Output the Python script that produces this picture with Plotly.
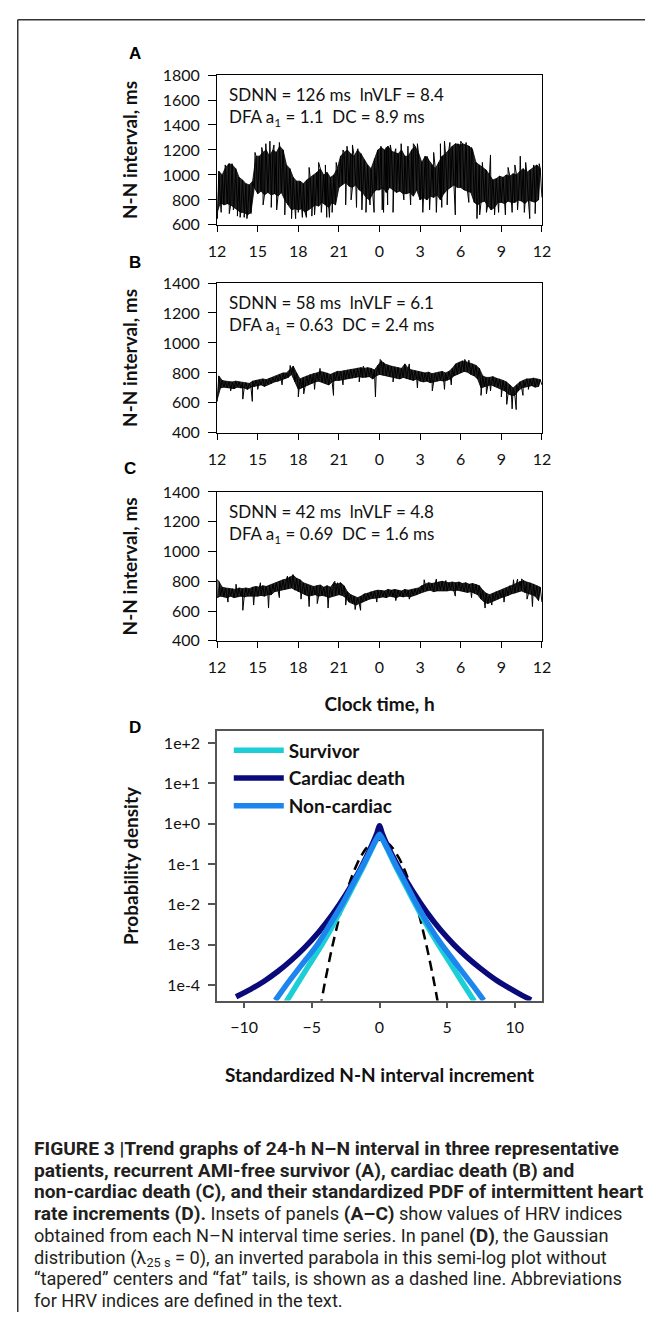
import plotly.graph_objects as go

W, H = 654, 1321

# ---------------- Panels A–C: 24-h N–N interval trends ----------------
BIN_H = 0.25  # hours per bin, 12:00 -> 12:00 (96 bins)
tick_hours = [0, 3, 6, 9, 12, 15, 18, 21, 24]
tick_clock = ["12", "15", "18", "21", "0", "3", "6", "9", "12"]

# Panel A (survivor): lower / upper edge of the dense band per 15-min bin (ms)
a_lo = [700, 780, 760, 770,  760, 740, 720, 700,  700, 680, 700, 900,
        850, 870, 840, 860,  840, 850, 830, 860,  800, 760, 720, 730,
        720, 730, 700, 720,  740, 760, 750, 780,  760, 740, 780, 760,
        900, 920, 940, 910,  900, 920, 880, 860,  820, 800, 850, 880,
        880, 900, 860, 900,  880, 860, 870, 850,  850, 860, 830, 880,
        800, 820, 800, 830,  820, 840, 800, 850,  880, 900, 920, 900,
        900, 880, 870, 860,  780, 760, 780, 790,  760, 720, 740, 780,
        780, 770, 790, 780,  780, 800, 790, 770,  800, 790, 780, 800]
a_hi = [1030, 1000, 1060, 1090,  1080, 1050, 980, 960,  930, 920, 950, 1150,
        1150, 1180, 1200, 1150,  1200, 1180, 1230, 1200,  1080, 1050, 980, 950,
        950, 930, 960, 980,  1000, 1020, 1050, 1000,  1020, 980, 1000, 1050,
        1150, 1180, 1200, 1170,  1150, 1200, 1170, 1120,  1080, 1050, 1130, 1200,
        1220, 1200, 1230, 1190,  1180, 1170, 1200, 1150,  1150, 1200, 1230, 1180,
        1100, 1150, 1120, 1080,  1050, 1100, 1150, 1170,  1200, 1230, 1250, 1240,
        1250, 1240, 1230, 1200,  1100, 1080, 1060, 1040,  1000, 960, 970, 990,
        980, 1000, 990, 1010,  1000, 1030, 1050, 1020,  1040, 1060, 1080, 1050]
a_spike_t = [0.02, 0.3, 0.6, 0.9, 1.1, 1.2, 1.5, 1.7, 2.0, 2.2, 2.5, 2.8,
             3.3, 3.4, 3.6, 3.9, 4.0, 4.2, 4.4, 4.6, 4.9, 5.0, 5.5, 5.8,
             6.0, 6.3, 6.6, 6.8, 7.0, 7.2, 7.5, 7.7, 8.0, 8.1, 8.3, 8.5, 8.8,
             9.3, 9.5, 9.6, 9.9, 10.0, 10.3, 10.4, 10.7, 11.0, 11.3, 11.6,
             12.1, 12.2, 12.3, 12.5, 12.6, 12.8, 13.0, 13.2, 13.6, 13.8, 14.1,
             14.3, 14.5, 14.8, 15.2, 15.5, 15.7, 16.0, 16.2, 16.5, 16.6, 16.8,
             17.0, 17.2, 17.6, 17.8, 18.0, 18.4, 18.6, 18.8, 19.2, 19.4, 19.6,
             19.9, 20.2, 20.5, 20.8, 21.3, 21.5, 21.8, 22.0, 22.2, 22.4, 22.7,
             22.8, 23.1, 23.4, 23.5, 23.8, 24.0]
a_spike_v = [650, 700, 1080, 690, 1090, 720, 670, 660, 660, 650, 690, 1180,
             1220, 760, 1250, 1270, 740, 1240, 720, 1260, 1150, 680, 650, 650,
             700, 660, 660, 1060, 670, 680, 1100, 700, 1080, 660, 660, 700, 1100,
             1200, 760, 1230, 800, 1240, 740, 1210, 720, 700, 760, 700,
             1230, 720, 700, 1220, 760, 1240, 700, 1210, 1250, 800, 1230,
             760, 1250, 1250, 700, 1150, 720, 1180, 700, 1250, 740, 1270,
             760, 1260, 680, 1250, 1270, 1260, 780, 1220, 650, 680, 1100,
             700, 1160, 680, 700, 680, 1060, 700, 1080, 720, 1150, 700,
             1100, 650, 1080, 690, 1090, 820]

# Panel B (cardiac death)
b_lo = [620, 700, 705, 700,  700, 695, 705, 700,  700, 690, 705, 710,
        715, 720, 710, 725,  730, 740, 745, 750,  760, 770, 790, 740,
        690, 700, 710, 720,  730, 740, 745, 740,  730, 720, 740, 750,
        750, 755, 760, 765,  765, 770, 775, 770,  770, 775, 760, 780,
        790, 785, 780, 775,  770, 765, 760, 770,  760, 755, 750, 760,
        745, 740, 745, 735,  740, 745, 750, 745,  750, 760, 780, 790,
        800, 810, 805, 790,  780, 760, 700, 710,  715, 720, 710, 705,
        690, 680, 660, 650,  650, 680, 700, 710,  710, 715, 705, 710]
b_hi = [780, 750, 745, 740,  740, 745, 740, 735,  735, 730, 745, 750,
        750, 760, 755, 765,  770, 780, 790, 800,  800, 820, 845, 800,
        760, 770, 780, 790,  795, 800, 810, 805,  800, 790, 800, 810,
        810, 815, 820, 825,  825, 830, 835, 830,  835, 830, 820, 850,
        880, 860, 850, 845,  840, 835, 830, 860,  830, 820, 815, 810,
        805, 800, 805, 795,  800, 805, 810, 800,  810, 830, 860, 870,
        880, 875, 870, 860,  850, 830, 780, 770,  770, 775, 765, 760,
        750, 740, 720, 700,  720, 740, 750, 760,  760, 765, 760, 755]
b_spike_t = [0.0, 1.0, 1.9, 2.6, 3.0, 4.8, 5.4, 6.0, 6.4, 7.2, 7.6, 8.6, 9.3,
             10.5, 10.8, 11.7, 12.05, 12.3, 13.0, 14.2, 14.8, 15.9, 16.8, 17.3,
             18.3, 18.6, 19.5, 19.9, 20.2, 21.0, 21.4, 21.8, 22.1, 22.6, 23.0,
             24.0]
b_spike_v = [610, 680, 625, 610, 690, 720, 850, 640, 660, 690, 830, 650, 720,
             740, 845, 640, 890, 870, 740, 860, 700, 680, 690, 720,
             890, 885, 650, 660, 680, 640, 590, 560, 555, 650, 690,
             720]

# Panel C (non-cardiac death)
c_lo = [690, 700, 695, 690,  700, 690, 695, 700,  695, 700, 705, 700,
        700, 705, 700, 710,  710, 730, 740, 745,  745, 750, 755, 740,
        730, 720, 710, 700,  705, 710, 700, 705,  700, 690, 700, 705,
        710, 705, 690, 660,  650, 640, 650, 660,  670, 680, 685, 690,
        690, 695, 690, 700,  695, 690, 700, 695,  700, 695, 705, 710,
        720, 730, 735, 740,  730, 735, 740, 735,  735, 740, 735, 740,
        735, 730, 725, 730,  720, 710, 680, 660,  650, 660, 670, 680,
        690, 700, 705, 715,  720, 730, 735, 725,  715, 710, 700, 670]
c_hi = [800, 760, 755, 750,  750, 745, 755, 750,  755, 750, 760, 765,
        760, 770, 765, 775,  780, 790, 800, 810,  815, 830, 840, 820,
        810, 790, 780, 770,  765, 770, 775, 760,  770, 760, 790, 780,
        790, 770, 730, 710,  700, 690, 700, 715,  720, 730, 735, 740,
        740, 735, 745, 740,  745, 740, 735, 745,  740, 745, 750, 755,
        770, 780, 790, 785,  790, 795, 800, 795,  790, 795, 790, 795,
        785, 790, 780, 785,  780, 770, 740, 720,  710, 720, 730, 735,
        745, 755, 770, 780,  790, 800, 805, 795,  790, 780, 770, 760]
c_spike_t = [0.0, 0.8, 1.4, 1.9, 2.7, 3.2, 3.8, 4.6, 5.2, 5.6, 6.2, 6.8, 7.4,
             8.2, 8.7, 8.9, 9.5, 10.2, 10.6, 11.8, 13.2, 14.2, 15.3, 16.2, 16.9,
             17.6, 18.8, 19.8, 20.3, 21.2, 21.9, 22.2, 22.5, 22.9, 23.3, 24.0]
c_spike_v = [810, 660, 780, 605, 640, 790, 620, 690, 835, 845, 680, 630, 650,
             620, 800, 790, 640, 610, 605, 660, 670, 680, 810, 815, 805,
             700, 690, 620, 640, 660, 810, 815, 815, 680, 630, 660]

inset_lines = [
    ("SDNN = 126 ms  lnVLF = 8.4", "DFA a<sub>1</sub> = 1.1  DC = 8.9 ms"),
    ("SDNN = 58 ms  lnVLF = 6.1", "DFA a<sub>1</sub> = 0.63  DC = 2.4 ms"),
    ("SDNN = 42 ms  lnVLF = 4.8", "DFA a<sub>1</sub> = 0.69  DC = 1.6 ms"),
]

# ---------------- Panel D: standardized PDFs (semi-log) ----------------
surv_x = [-6.9, -6.0, -5.2, -4.3, -3.5, -2.7, -1.9, -1.15, -0.6, -0.2, 0.0,
          0.2, 0.6, 1.15, 1.9, 2.65, 3.5, 4.36, 5.3, 6.2, 7.0]
surv_y = [3.8e-5, 1.17e-4, 3.16e-4, 9.55e-4, 2.82e-3, 9.33e-3, 3.02e-2, 9.33e-2,
          2.29e-1, 4.27e-1, 5.13e-1, 4.27e-1, 2.29e-1, 9.33e-2, 3.02e-2, 1.0e-2,
          3.02e-3, 1.0e-3, 3.16e-4, 1.05e-4, 3.98e-5]
card_x = [-10.6, -9.5, -8.5, -7.5, -6.5, -5.5, -4.5, -3.5, -2.5, -1.5, -1.0,
          -0.5, -0.2, 0.0, 0.2, 0.5, 1.0, 1.5, 2.5, 3.5, 4.5, 5.5, 6.5, 7.5,
          8.5, 9.5, 10.5, 11.2]
card_y = [5.13e-5, 7.94e-5, 1.26e-4, 2.19e-4, 4.17e-4, 8.71e-4, 2.04e-3, 5.5e-3,
          1.74e-2, 6.76e-2, 1.45e-1, 3.31e-1, 5.75e-1, 8.91e-1, 5.75e-1, 3.31e-1,
          1.51e-1, 7.41e-2, 2.0e-2, 6.31e-3, 2.34e-3, 1.0e-3, 4.79e-4, 2.51e-4,
          1.41e-4, 8.71e-5, 5.62e-5, 4.27e-5]
nonc_x = [-7.7, -7.0, -5.8, -4.6, -3.7, -2.8, -2.0, -1.2, -0.6, -0.2, 0.0,
          0.2, 0.6, 1.2, 2.0, 2.75, 3.65, 4.6, 5.8, 7.0, 7.7]
nonc_y = [4.17e-5, 8.91e-5, 3.02e-4, 1.0e-3, 3.02e-3, 9.55e-3, 3.02e-2, 9.55e-2,
          2.4e-1, 4.37e-1, 5.5e-1, 4.37e-1, 2.4e-1, 9.55e-2, 3.02e-2, 1.0e-2,
          3.02e-3, 1.0e-3, 2.95e-4, 8.71e-5, 4.17e-5]
gauss_x = [-4.4, -4.0, -3.5, -3.0, -2.5, -2.0, -1.5, -1.0, -0.5, 0.0,
           0.5, 1.0, 1.5, 2.0, 2.5, 3.0, 3.5, 4.0, 4.4]
gauss_y = [2.5e-5, 1.34e-4, 8.7e-4, 4.4e-3, 1.75e-2, 5.4e-2, 1.3e-1, 2.42e-1,
           3.52e-1, 3.99e-1, 3.52e-1, 2.42e-1, 1.3e-1, 5.4e-2, 1.75e-2,
           4.4e-3, 8.7e-4, 1.34e-4, 2.5e-5]
pdf_tickvals = [1e2, 1e1, 1e0, 1e-1, 1e-2, 1e-3, 1e-4]
pdf_ticktext = ["1e+2", "1e+1", "1e+0", "1e-1", "1e-2", "1e-3", "1e-4"]

BOLD = '<b><span style="font-size:19.2px">%s</span></b>'
REG = '<span style="font-size:18.2px">%s</span>'
caption_lines = [
    BOLD % "FIGURE 3 |Trend graphs of 24-h N–N interval in three representative",
    BOLD % "patients, recurrent AMI-free survivor (A), cardiac death (B) and",
    BOLD % "non-cardiac death (C), and their standardized PDF of intermittent heart",
    BOLD % "rate increments (D)." + REG % " Insets of panels " + BOLD % "(A–C)"
    + REG % " show values of HRV indices",
    REG % "obtained from each N–N interval time series. In panel " + BOLD % "(D)"
    + REG % ", the Gaussian",
    REG % "distribution (λ<sub>25 s</sub> = 0), an inverted parabola in this semi-log plot without",
    REG % "“tapered” centers and “fat” tails, is shown as a dashed line. Abbreviations",
    REG % "for HRV indices are defined in the text.",
]

# ---------------- layout helpers ----------------
def fx(p):
    return p / W


def fy(p):
    return 1 - p / H


def trend_xy(lo, hi, st, sv):
    pts = []
    for i, (l, h) in enumerate(zip(lo, hi)):
        t0 = i * BIN_H
        pts.append((t0, l))
        pts.append((t0 + BIN_H / 2, h))
    pts += list(zip(st, sv))
    pts.sort(key=lambda p: p[0])
    return [p[0] for p in pts], [p[1] for p in pts]


def band_xy(lo, hi):
    t_hi = [i * BIN_H + BIN_H / 2 for i in range(len(hi))]
    t_lo = [i * BIN_H for i in range(len(lo))]
    return t_hi + t_lo[::-1], list(hi) + list(lo)[::-1]


TICKFONT = dict(family="Lato", size=16, color="#111")
TITLEFONT = dict(family="Lato", size=19, color="#111", weight="bold")
X0, X1 = 214, 548
panels = [  # top, bottom px, y range
    (66, 218, [600, 1800]),
    (277, 429, [400, 1400]),
    (489, 640, [400, 1400]),
]

fig = go.Figure()
layout = dict(
    width=W, height=H, margin=dict(l=0, r=0, t=0, b=0),
    paper_bgcolor="white", plot_bgcolor="white", showlegend=True,
)

series = [(a_lo, a_hi, a_spike_t, a_spike_v),
          (b_lo, b_hi, b_spike_t, b_spike_v),
          (c_lo, c_hi, c_spike_t, c_spike_v)]

annotations = []
for k, ((top, bot, yr), ser) in enumerate(zip(panels, series)):
    n = "" if k == 0 else str(k + 1)
    bx, by = band_xy(ser[0], ser[1])
    fig.add_trace(go.Scatter(x=bx, y=by, mode="lines", fill="toself",
                             fillcolor="rgba(0,0,0,0.86)", xaxis="x" + n,
                             yaxis="y" + n, line=dict(color="black", width=0.8),
                             showlegend=False, hoverinfo="skip"))
    xs, ys = trend_xy(*ser)
    fig.add_trace(go.Scatter(x=xs, y=ys, mode="lines", xaxis="x" + n, yaxis="y" + n,
                             line=dict(color="black", width=1.0, simplify=False),
                             showlegend=False, hoverinfo="skip"))
    layout["xaxis" + n] = dict(
        domain=[fx(X0), fx(X1)], anchor="y" + n, range=[0, 24],
        tickvals=tick_hours, ticktext=tick_clock, ticks="outside", ticklen=6,
        tickcolor="black", tickwidth=1.2, showline=True, linecolor="black",
        linewidth=1.2, mirror=True, showgrid=False, zeroline=False,
        tickfont=TICKFONT, ticklabelstandoff=6,
    )
    layout["yaxis" + n] = dict(
        domain=[fy(bot), fy(top)], anchor="x" + n, range=yr, dtick=200,
        ticks="outside", ticklen=8, tickcolor="black", tickwidth=1.2,
        showline=True, linecolor="black", linewidth=1.2, mirror=True,
        showgrid=False, zeroline=False, tickfont=TICKFONT, ticklabelstandoff=5,
        title=dict(text="N-N interval, ms", font=TITLEFONT, standoff=20),
    )
    l1, l2 = inset_lines[k]
    for j, txt in enumerate((l1, l2)):
        annotations.append(dict(
            x=fx(224), y=fy(top + 20 + 24 * j), xref="paper", yref="paper",
            text=txt, showarrow=False, xanchor="left", yanchor="middle",
            font=dict(family="Lato", size=17, color="#111"),
        ))

layout["xaxis3"]["title"] = dict(text="Clock time, h", font=TITLEFONT, standoff=22)

# Panel D
d_top, d_bot = 732, 1005
fig.add_trace(go.Scatter(x=gauss_x, y=gauss_y, mode="lines", xaxis="x4", yaxis="y4",
                         line=dict(color="black", width=2.5, dash="10px,6px",
                                   shape="spline", smoothing=0.6),
                         showlegend=False, hoverinfo="skip"))
for name, xs, ys, col in [("Survivor", surv_x, surv_y, "#1CCFD6"),
                          ("Cardiac death", card_x, card_y, "#0A0A7A"),
                          ("Non-cardiac", nonc_x, nonc_y, "#1C86EE")]:
    fig.add_trace(go.Scatter(x=xs, y=ys, mode="lines", name=name, xaxis="x4",
                             yaxis="y4",
                             line=dict(color=col, width=5.5, shape="spline",
                                       smoothing=0.6),
                             legendgroup=name, hoverinfo="skip"))

layout["xaxis4"] = dict(
    domain=[fx(X0), fx(X1)], anchor="y4", range=[-12, 12],
    tickvals=[-10, -5, 0, 5, 10], ticks="outside", ticklen=6, tickcolor="#555",
    tickwidth=1.5, showline=True, linecolor="#555", linewidth=1.5, mirror=True,
    showgrid=False, zeroline=False, tickfont=TICKFONT, ticklabelstandoff=6,
    title=dict(text="Standardized N-N interval increment", font=TITLEFONT, standoff=33),
)
layout["yaxis4"] = dict(
    domain=[fy(d_bot), fy(d_top)], anchor="x4", type="log", range=[-4.385, 2.29],
    tickvals=pdf_tickvals, ticktext=pdf_ticktext, ticks="outside", ticklen=7,
    tickcolor="#555", tickwidth=1.5, showline=True, linecolor="#555", linewidth=1.5,
    mirror=True, showgrid=False, zeroline=False, tickfont=TICKFONT,
    ticklabelstandoff=5,
    title=dict(text="Probability density", font=TITLEFONT, standoff=20),
)
layout["legend"] = dict(
    x=fx(226), y=fy(732), xanchor="left", yanchor="top",
    font=dict(family="Lato", size=19, color="#111", weight="bold"),
    bgcolor="rgba(0,0,0,0)", itemwidth=50, tracegroupgap=8, traceorder="normal",
)

# panel letters
for letter, (x, y) in zip("ABCD", [(130, 44), (130, 256), (124, 465), (130, 728)]):
    annotations.append(dict(
        x=fx(x), y=fy(y), xref="paper", yref="paper", text="<b>%s</b>" % letter,
        showarrow=False, xanchor="center", yanchor="middle",
        font=dict(family="Liberation Sans", size=17, color="black"),
    ))

# caption (one multi-line text block)
annotations.append(dict(
    x=fx(24), y=fy(1232), xref="paper", yref="paper",
    text="<br>".join(caption_lines), showarrow=False, xanchor="left",
    yanchor="middle", align="left",
    font=dict(family="Roboto", size=16.7, color="#231F20"),
))

layout["annotations"] = annotations
layout["shapes"] = [
    dict(type="line", xref="paper", yref="paper", x0=fx(9), x1=1, y0=fy(10), y1=fy(10),
         line=dict(color="#333", width=1.5)),
    dict(type="line", xref="paper", yref="paper", x0=fx(9), x1=fx(9), y0=fy(10), y1=0,
         line=dict(color="#333", width=1.5)),
]

fig.update_layout(**layout)
fig.write_html("out.html")
